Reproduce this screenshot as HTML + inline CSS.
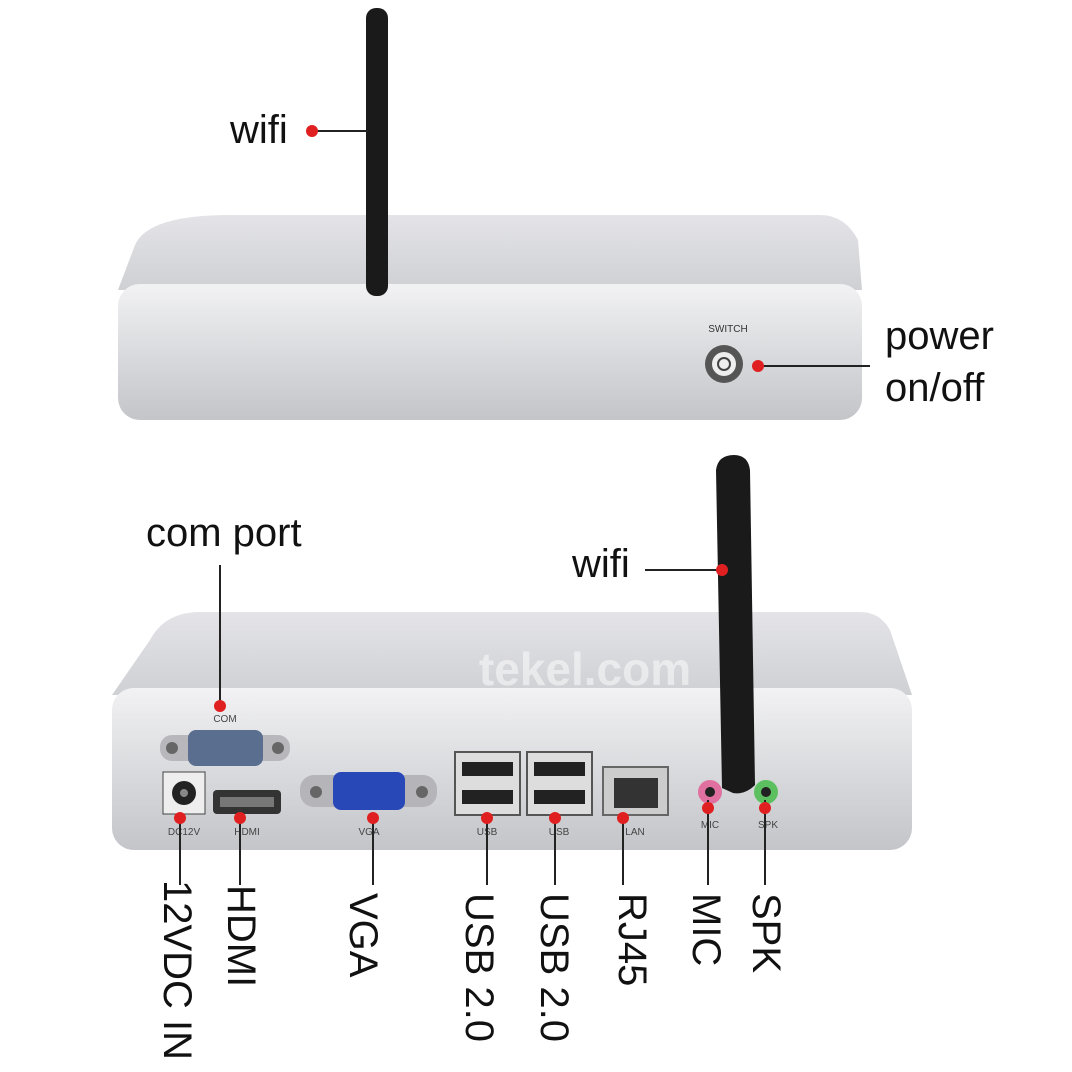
<!DOCTYPE html>
<html><head><meta charset="utf-8"><style>
body{margin:0;width:1072px;height:1072px;background:#fff;overflow:hidden;position:relative;font-family:"Liberation Sans",sans-serif}
.t{position:absolute;font-size:40px;color:#111;line-height:1}
.v{position:absolute;font-size:40px;color:#111;writing-mode:vertical-rl;line-height:1}
</style></head><body>
<svg width="1072" height="1072" style="position:absolute;left:0;top:0">
<defs>
<linearGradient id="tp" x1="0" y1="0" x2="0" y2="1"><stop offset="0" stop-color="#e4e4e8"/><stop offset="1" stop-color="#cfd0d4"/></linearGradient>
<linearGradient id="fr" x1="0" y1="0" x2="0" y2="1"><stop offset="0" stop-color="#f2f2f4"/><stop offset="0.5" stop-color="#dadbde"/><stop offset="1" stop-color="#c4c5c9"/></linearGradient>
</defs>
<path d="M230 215 L820 215 Q845 215 858 240 L862 290 L118 290 L135 245 Q148 215 230 215Z" fill="url(#tp)"/>
<rect x="118" y="284" width="744" height="136" rx="22" fill="url(#fr)"/>
<rect x="366" y="8" width="22" height="288" rx="10" fill="#1a1a1a"/>
<circle cx="724" cy="364" r="19" fill="#555"/><circle cx="724" cy="364" r="12" fill="#eee"/><circle cx="724" cy="364" r="6" fill="none" stroke="#444" stroke-width="2"/>
<text x="728" y="332" font-size="10" text-anchor="middle" fill="#333" font-family="Liberation Sans">SWITCH</text>
<line x1="312" y1="131" x2="368" y2="131" stroke="#222" stroke-width="2"/><circle cx="312" cy="131" r="6" fill="#e02020"/>
<line x1="758" y1="366" x2="870" y2="366" stroke="#222" stroke-width="2"/><circle cx="758" cy="366" r="6" fill="#e02020"/>
<path d="M200 612 L860 612 Q880 612 890 630 L912 695 L112 695 L150 640 Q165 612 200 612Z" fill="url(#tp)"/>
<rect x="112" y="688" width="800" height="162" rx="22" fill="url(#fr)"/>
<text x="585" y="685" font-size="46" fill="#fff" opacity="0.5" text-anchor="middle" font-weight="bold" font-family="Liberation Sans">tekel.com</text>
<rect x="160" y="735" width="130" height="26" rx="12" fill="#b8b8bc"/>
<rect x="188" y="730" width="75" height="36" rx="8" fill="#5a6f8f"/>
<circle cx="172" cy="748" r="6" fill="#666"/><circle cx="278" cy="748" r="6" fill="#666"/>
<text x="225" y="722" font-size="10" text-anchor="middle" fill="#444">COM</text>
<rect x="163" y="772" width="42" height="42" fill="#eee" stroke="#444"/><circle cx="184" cy="793" r="12" fill="#222"/><circle cx="184" cy="793" r="4" fill="#888"/>
<rect x="213" y="790" width="68" height="24" rx="4" fill="#333"/><rect x="220" y="797" width="54" height="10" fill="#777"/>
<rect x="300" y="775" width="137" height="32" rx="14" fill="#b5b5b9"/>
<rect x="333" y="772" width="72" height="38" rx="8" fill="#2948b8"/>
<circle cx="316" cy="792" r="6" fill="#666"/><circle cx="422" cy="792" r="6" fill="#666"/>
<rect x="455" y="752" width="65" height="63" fill="#ddd" stroke="#555" stroke-width="2"/>
<rect x="462" y="762" width="51" height="14" fill="#222"/><rect x="462" y="790" width="51" height="14" fill="#222"/>
<rect x="527" y="752" width="65" height="63" fill="#ddd" stroke="#555" stroke-width="2"/>
<rect x="534" y="762" width="51" height="14" fill="#222"/><rect x="534" y="790" width="51" height="14" fill="#222"/>
<rect x="603" y="767" width="65" height="48" fill="#ccc" stroke="#666" stroke-width="2"/><rect x="614" y="778" width="44" height="30" fill="#333"/>
<circle cx="710" cy="792" r="12" fill="#e070a0"/><circle cx="710" cy="792" r="5" fill="#222"/>
<circle cx="766" cy="792" r="12" fill="#5cc060"/><circle cx="766" cy="792" r="5" fill="#222"/>
<g font-size="10" fill="#444" text-anchor="middle">
<text x="184" y="835">DC12V</text><text x="247" y="835">HDMI</text><text x="369" y="835">VGA</text><text x="487" y="835">USB</text><text x="559" y="835">USB</text><text x="635" y="835">LAN</text><text x="710" y="828">MIC</text><text x="768" y="828">SPK</text>
</g>
<path d="M716 470 Q718 455 734 455 Q748 455 750 470 L755 785 Q745 795 733 793 L722 788 Z" fill="#1a1a1a"/>
<line x1="645" y1="570" x2="722" y2="570" stroke="#222" stroke-width="2"/><circle cx="722" cy="570" r="6" fill="#e02020"/>
<line x1="220" y1="565" x2="220" y2="706" stroke="#222" stroke-width="2"/><circle cx="220" cy="706" r="6" fill="#e02020"/>
<g stroke="#222" stroke-width="2">
<line x1="180" y1="818" x2="180" y2="885"/><line x1="240" y1="818" x2="240" y2="885"/><line x1="373" y1="818" x2="373" y2="885"/><line x1="487" y1="818" x2="487" y2="885"/><line x1="555" y1="818" x2="555" y2="885"/><line x1="623" y1="818" x2="623" y2="885"/><line x1="708" y1="800" x2="708" y2="885"/><line x1="765" y1="800" x2="765" y2="885"/>
</g>
<g fill="#e02020">
<circle cx="180" cy="818" r="6"/><circle cx="240" cy="818" r="6"/><circle cx="373" cy="818" r="6"/><circle cx="487" cy="818" r="6"/><circle cx="555" cy="818" r="6"/><circle cx="623" cy="818" r="6"/><circle cx="708" cy="808" r="6"/><circle cx="765" cy="808" r="6"/>
</g>
</svg>
<div class="t" style="left:230px;top:110px">wifi</div>
<div class="t" style="left:885px;top:316px">power</div>
<div class="t" style="left:885px;top:368px">on/off</div>
<div class="t" style="left:146px;top:513px">com port</div>
<div class="t" style="left:572px;top:544px">wifi</div>
<div class="v" style="left:157px;top:880px">12VDC IN</div>
<div class="v" style="left:221px;top:885px">HDMI</div>
<div class="v" style="left:343px;top:893px">VGA</div>
<div class="v" style="left:459px;top:893px">USB 2.0</div>
<div class="v" style="left:534px;top:893px">USB 2.0</div>
<div class="v" style="left:612px;top:893px">RJ45</div>
<div class="v" style="left:686px;top:893px">MIC</div>
<div class="v" style="left:746px;top:893px">SPK</div>
</body></html>
